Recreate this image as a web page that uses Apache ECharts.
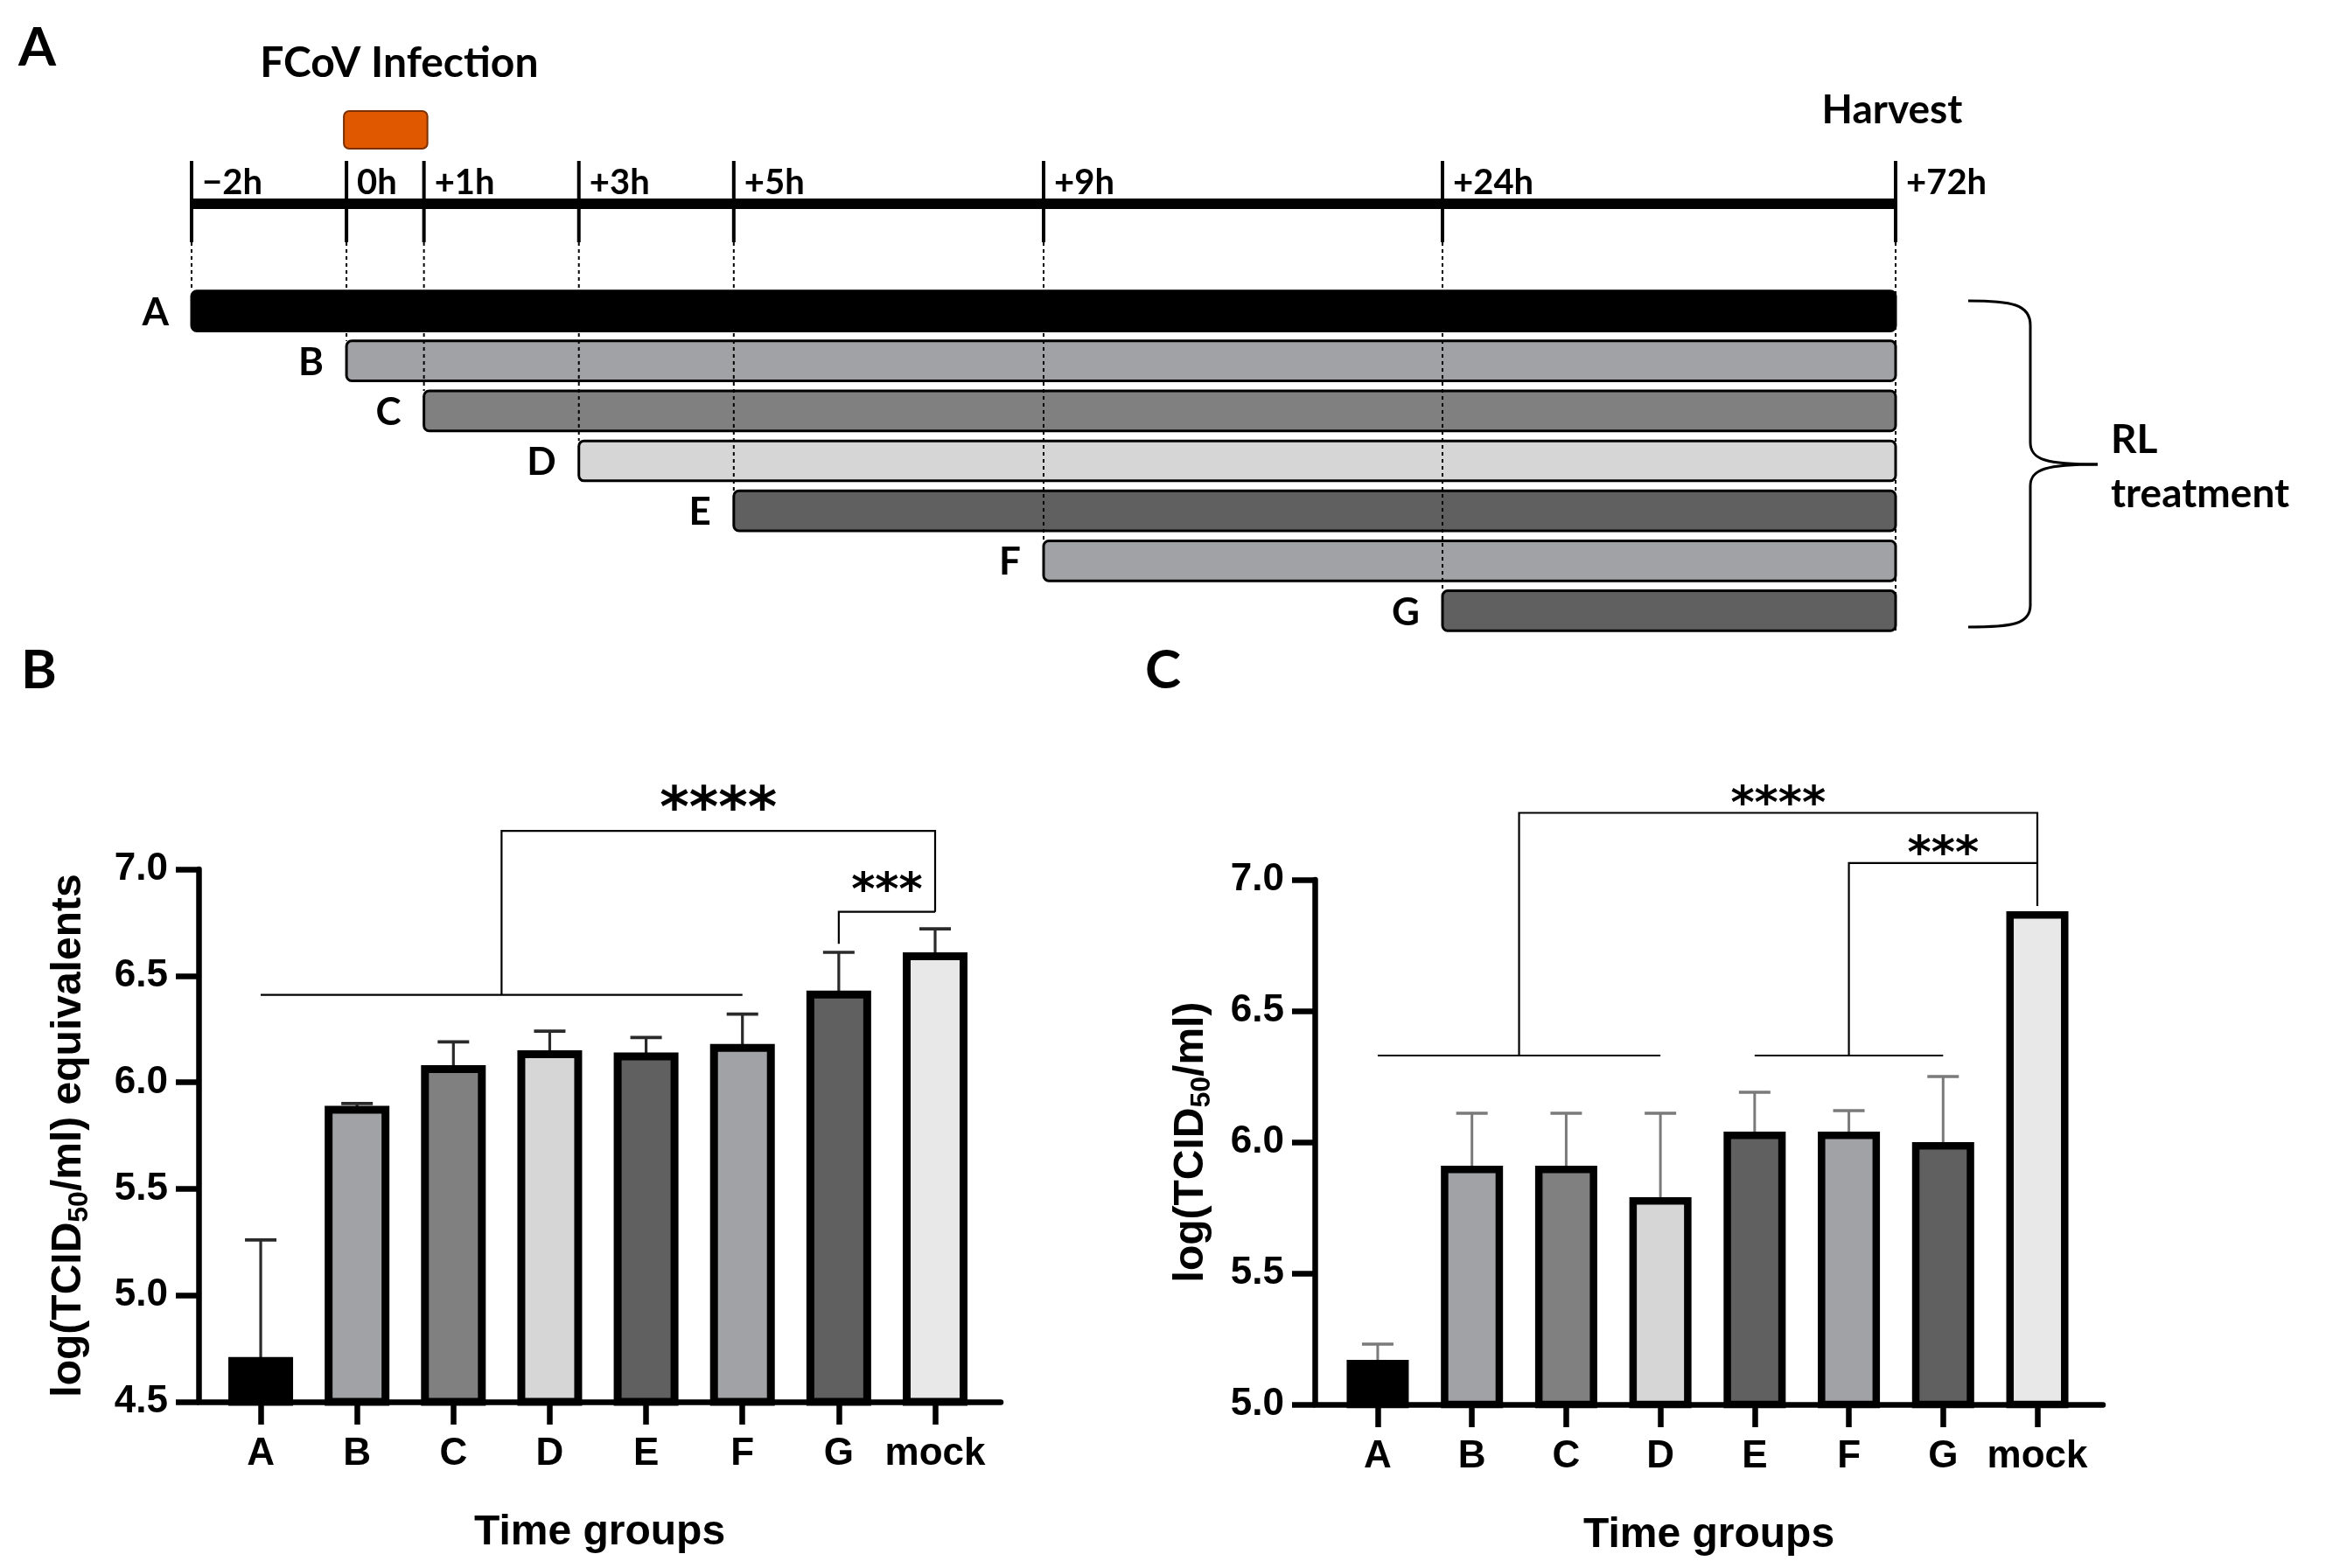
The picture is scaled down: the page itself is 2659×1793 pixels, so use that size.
<!DOCTYPE html>
<html><head><meta charset="utf-8">
<script src="https://cdn.jsdelivr.net/npm/echarts@6/dist/echarts.min.js"></script>
<style>html,body{margin:0;padding:0;background:#fff}#c{width:2659px;height:1793px}</style>
</head><body><div id="c"></div>
<script>
// ---------- Panel A: treatment schedule ----------
const timeLabels = ['−2h', '0h', '+1h', '+3h', '+5h', '+9h', '+24h', '+72h'];
const timePos = [0, 2, 3, 5, 7, 11, 16.15, 22];          // schematic (non-linear) time axis
const groups = ['A', 'B', 'C', 'D', 'E', 'F', 'G'];
const groupStart = [0, 1, 2, 3, 4, 5, 6];                 // index into timeLabels
const infectionWindow = [1, 2];                           // 0h .. +1h
const harvestIndex = 7;                                   // +72h

// ---------- Panels B and C ----------
const categories = ['A', 'B', 'C', 'D', 'E', 'F', 'G', 'mock'];
const meanB  = [4.71, 5.89, 6.08, 6.15, 6.14, 6.18, 6.43, 6.61];
const upperB = [5.26, 5.90, 6.19, 6.24, 6.21, 6.32, 6.61, 6.72];
const meanC  = [5.17, 5.91, 5.91, 5.79, 6.04, 6.04, 6.00, 6.88];
const upperC = [5.23, 6.11, 6.11, 6.11, 6.19, 6.12, 6.25, null];
const yTicksB = [4.5, 7.0];
const yTicksC = [5.0, 7.0];

// significance brackets (category index, value)
const bracketsB = [
  [[0, 6.41], [5, 6.41]],
  [[2.5, 6.41], [2.5, 7.18], [7, 7.18], [7, 6.80]],
  [[6, 6.65], [6, 6.80], [7, 6.80]]
];
const starsB = [[4.75, 7.18, '****'], [6.5, 6.80, '***']];
const bracketsC = [
  [[0, 6.33], [3, 6.33]],
  [[4, 6.33], [6, 6.33]],
  [[1.5, 6.33], [1.5, 7.255], [7, 7.255], [7, 6.90]],
  [[5, 6.33], [5, 7.064], [7, 7.064]]
];
const starsC = [[4.25, 7.255, '****'], [6, 7.064, '***']];

// ---------- styles ----------
const barColors = ['#000000', '#a1a2a5', '#808080', '#d6d6d6', '#606060', '#a1a2a5', '#606060', '#e8e8e8'];
const FA = 'Lato';
const FB = 'Liberation Sans';

const chart = echarts.init(document.getElementById('c'), null, {renderer: 'canvas'});

function schedBars(params, api) {
  const i = api.value(1);
  const s = api.coord([api.value(0), i]);
  const e = api.coord([api.value(2), i]);
  const h = api.size([0, 1])[1] * 0.8;
  return {type: 'group', children: [
    {type: 'rect', shape: {x: s[0], y: s[1] - h / 2, width: e[0] - s[0], height: h, r: 6},
     style: {fill: barColors[i], stroke: '#000', lineWidth: 3}},
    {type: 'text', x: s[0] - 26, y: s[1] + 2,
     style: {text: groups[i], fontFamily: FA, fontWeight: 'bold', fontSize: 44, fill: '#000', align: 'right', verticalAlign: 'middle'}}
  ]};
}

function timeline(params, api) {
  const i = api.value(1);
  const x = api.coord([api.value(0), 0])[0];
  const top = params.coordSys.y;
  const tlY = top - 94;
  const h = api.size([0, 1])[1] * 0.8;
  const children = [];
  if (i === 0) {
    const xe = api.coord([timePos[timePos.length - 1], 0])[0];
    children.push({type: 'line', shape: {x1: x, y1: tlY, x2: xe, y2: tlY}, style: {stroke: '#000', lineWidth: 12}});
  }
  children.push({type: 'line', shape: {x1: x, y1: tlY - 49, x2: x, y2: tlY + 44}, style: {stroke: '#000', lineWidth: 4}});
  children.push({type: 'text', x: x + 12, y: tlY - 24,
    style: {text: timeLabels[i], fontFamily: FA, fontWeight: 'bold', fontSize: 40, fill: '#000', align: 'left', verticalAlign: 'middle'}});
  let yEnd;
  if (i < groups.length) yEnd = api.coord([0, i])[1] - h / 2;
  else yEnd = api.coord([0, groups.length - 1])[1] + h / 2;
  children.push({type: 'line', shape: {x1: x, y1: tlY + 44, x2: x, y2: yEnd},
    style: {stroke: '#000', lineWidth: 2, lineDash: [4, 4]}});
  if (i === harvestIndex) {
    children.push({type: 'text', x: x - 4, y: tlY - 107,
      style: {text: 'Harvest', fontFamily: FA, fontWeight: 'bold', fontSize: 46, fill: '#000', align: 'center', verticalAlign: 'middle'}});
  }
  return {type: 'group', children};
}

function infection(params, api) {
  const x0 = api.coord([api.value(0), 0])[0];
  const x1 = api.coord([api.value(1), 0])[0];
  const top = params.coordSys.y;
  return {type: 'group', children: [
    {type: 'rect', shape: {x: x0 - 3, y: top - 200, width: x1 - x0 + 7, height: 43, r: 6},
     style: {fill: '#e05800', stroke: '#7a3000', lineWidth: 2}},
    {type: 'text', x: (x0 + x1) / 2 + 16, y: top - 254,
     style: {text: 'FCoV Infection', fontFamily: FA, fontWeight: 'bold', fontSize: 48, fill: '#000', align: 'center', verticalAlign: 'middle'}}
  ]};
}

function errRender(color, w) {
  return function (params, api) {
    const up = api.value(2);
    if (isNaN(up)) return null;
    const p0 = api.coord([api.value(0), api.value(1)]);
    const p1 = api.coord([api.value(0), up]);
    return {type: 'group', children: [
      {type: 'line', shape: {x1: p0[0], y1: p0[1] + 6, x2: p1[0], y2: p1[1]}, style: {stroke: color, lineWidth: w}},
      {type: 'line', shape: {x1: p1[0] - 18, y1: p1[1], x2: p1[0] + 18, y2: p1[1]}, style: {stroke: color, lineWidth: w + 0.5}}
    ]};
  };
}

function bracketRender(list) {
  return function (params, api) {
    const k = api.value(2);
    const pts = list[k].map(p => api.coord(p));
    return {type: 'polyline', shape: {points: pts}, style: {stroke: '#000', lineWidth: 2.2, fill: null}};
  };
}

function starRender(list, sizes, offs) {
  return function (params, api) {
    const k = api.value(2);
    const p = api.coord([api.value(0), api.value(1)]);
    return {type: 'text', x: p[0], y: p[1] + offs[k],
      style: {text: list[k][2], fontFamily: 'DejaVu Sans', fontWeight: 'bold', fontSize: sizes[k], fill: '#000', align: 'center', verticalAlign: 'middle'}};
  };
}

function xAxisCfg(grid, min, max) {
  return {
    type: 'value', gridIndex: grid, min: min, max: max,
    axisLine: {show: true, onZero: false, lineStyle: {color: '#000', width: 6.5}},
    axisTick: {show: true, customValues: categories.map((c, i) => i), length: 26, lineStyle: {color: '#000', width: 6.5}},
    axisLabel: {show: true, customValues: categories.map((c, i) => i), formatter: v => categories[Math.round(v)],
      fontFamily: FB, fontWeight: 'bold', fontSize: 44, color: '#000', margin: 38},
    splitLine: {show: false},
    name: 'Time groups', nameLocation: 'middle', nameGap: 126,
    nameTextStyle: {fontFamily: FB, fontWeight: 'bold', fontSize: 48, color: '#000'}
  };
}

function yAxisCfg(grid, ticks, name, gap) {
  return {
    type: 'value', gridIndex: grid, min: ticks[0], max: ticks[1], interval: 0.5,
    axisLine: {show: true, onZero: false, lineStyle: {color: '#000', width: 6.5}},
    axisTick: {show: true, length: 26, lineStyle: {color: '#000', width: 6.5}},
    axisLabel: {formatter: v => v.toFixed(1), fontFamily: FB, fontWeight: 'bold', fontSize: 44, color: '#000', margin: 35},
    splitLine: {show: false},
    name: name, nameLocation: 'middle', nameGap: gap,
    nameTextStyle: {fontFamily: FB, fontWeight: 'bold', fontSize: 48, color: '#000', lineHeight: 56,
      rich: {s: {fontFamily: FB, fontWeight: 'bold', fontSize: 32, color: '#000', lineHeight: 36, verticalAlign: 'bottom'}}}
  };
}

const braceStyle = {stroke: '#000', lineWidth: 3, fill: null};
const option = {
  backgroundColor: '#fff',
  animation: false,
  grid: [
    {left: 219, top: 327, width: 1948, height: 400},
    {left: 227, top: 994, width: 917, height: 609},
    {left: 1503, top: 1006, width: 901, height: 600}
  ],
  xAxis: [
    {type: 'value', gridIndex: 0, min: 0, max: 22, show: false},
    xAxisCfg(1, -0.645, 7.681),
    xAxisCfg(2, -0.668, 7.696)
  ],
  yAxis: [
    {type: 'category', gridIndex: 0, data: groups, inverse: true, show: false},
    yAxisCfg(1, yTicksB, 'log(TCID{s|50}/ml) equivalents', 120),
    yAxisCfg(2, yTicksC, 'log(TCID{s|50}/ml)', 113)
  ],
  series: [
    // panel A
    {type: 'custom', xAxisIndex: 0, yAxisIndex: 0, z: 2, clip: false, renderItem: schedBars,
     data: groups.map((g, i) => [timePos[groupStart[i]], i, timePos[harvestIndex]])},
    {type: 'custom', xAxisIndex: 0, yAxisIndex: 0, z: 3, clip: false, renderItem: timeline,
     data: timePos.map((p, i) => [p, i])},
    {type: 'custom', xAxisIndex: 0, yAxisIndex: 0, z: 3, clip: false, renderItem: infection,
     data: [[timePos[infectionWindow[0]], timePos[infectionWindow[1]]]]},
    // panel B
    {type: 'custom', xAxisIndex: 1, yAxisIndex: 1, z: 1, clip: false, renderItem: errRender('#2a2a2a', 3.2),
     data: meanB.map((v, i) => [i, v, upperB[i]])},
    {type: 'bar', xAxisIndex: 1, yAxisIndex: 1, z: 2, barWidth: 74,
     itemStyle: {borderColor: '#000', borderWidth: 9},
     data: meanB.map((v, i) => ({value: [i, v], itemStyle: {color: barColors[i]}}))},
    {type: 'custom', xAxisIndex: 1, yAxisIndex: 1, z: 3, clip: false, renderItem: bracketRender(bracketsB),
     data: bracketsB.map((b, k) => [b[0][0], b[0][1], k])},
    {type: 'custom', xAxisIndex: 1, yAxisIndex: 1, z: 3, clip: false, renderItem: starRender(starsB, [64, 52], [-22, -22]),
     data: starsB.map((s, k) => [s[0], s[1], k])},
    // panel C
    {type: 'custom', xAxisIndex: 2, yAxisIndex: 2, z: 1, clip: false, renderItem: errRender('#7a7a7a', 3),
     data: meanC.map((v, i) => [i, v, upperC[i] == null ? NaN : upperC[i]])},
    {type: 'bar', xAxisIndex: 2, yAxisIndex: 2, z: 2, barWidth: 71,
     itemStyle: {borderColor: '#000', borderWidth: 8.5},
     data: meanC.map((v, i) => ({value: [i, v], itemStyle: {color: barColors[i]}}))},
    {type: 'custom', xAxisIndex: 2, yAxisIndex: 2, z: 3, clip: false, renderItem: bracketRender(bracketsC),
     data: bracketsC.map((b, k) => [b[0][0], b[0][1], k])},
    {type: 'custom', xAxisIndex: 2, yAxisIndex: 2, z: 3, clip: false, renderItem: starRender(starsC, [52, 52], [-8, -8]),
     data: starsC.map((s, k) => [s[0], s[1], k])}
  ],
  graphic: [
    {type: 'text', left: 21, top: 24, style: {text: 'A', fontFamily: FA, fontWeight: 'bold', fontSize: 62, fill: '#000'}},
    {type: 'text', left: 24, top: 736, style: {text: 'B', fontFamily: FA, fontWeight: 'bold', fontSize: 62, fill: '#000'}},
    {type: 'text', left: 1309, top: 736, style: {text: 'C', fontFamily: FA, fontWeight: 'bold', fontSize: 62, fill: '#000'}},
    {type: 'group', children: [
      {type: 'bezierCurve', shape: {x1: 2250, y1: 344, cpx1: 2300, cpy1: 344, cpx2: 2321, cpy2: 348, x2: 2321, y2: 372}, style: braceStyle},
      {type: 'line', shape: {x1: 2321, y1: 372, x2: 2321, y2: 506}, style: braceStyle},
      {type: 'bezierCurve', shape: {x1: 2321, y1: 506, cpx1: 2321, cpy1: 526, cpx2: 2340, cpy2: 531, x2: 2398, y2: 531}, style: braceStyle},
      {type: 'bezierCurve', shape: {x1: 2398, y1: 531, cpx1: 2340, cpy1: 531, cpx2: 2321, cpy2: 536, x2: 2321, y2: 556}, style: braceStyle},
      {type: 'line', shape: {x1: 2321, y1: 556, x2: 2321, y2: 692}, style: braceStyle},
      {type: 'bezierCurve', shape: {x1: 2321, y1: 692, cpx1: 2321, cpy1: 714, cpx2: 2300, cpy2: 717, x2: 2250, y2: 717}, style: braceStyle}
    ]},
    {type: 'text', left: 2413, top: 480, style: {text: 'RL', fontFamily: FA, fontWeight: 'bold', fontSize: 46, fill: '#000'}},
    {type: 'text', left: 2413, top: 542, style: {text: 'treatment', fontFamily: FA, fontWeight: 'bold', fontSize: 46, fill: '#000'}}
  ]
};
chart.setOption(option);
</script>
</body></html>
